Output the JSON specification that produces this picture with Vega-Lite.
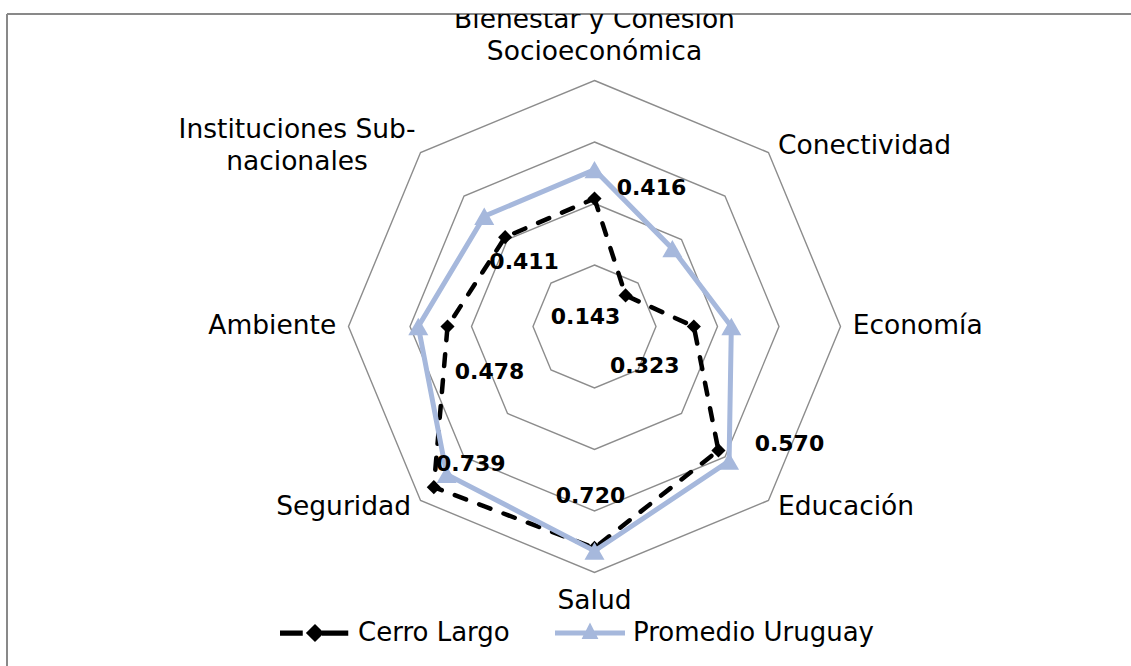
{
  "$schema": "https://vega.github.io/schema/vega-lite/v6.json",
  "width": 1124,
  "height": 652,
  "padding": {"left": 7, "top": 14, "right": 0, "bottom": 0},
  "autosize": {"type": "none"},
  "background": "white",
  "config": {
    "view": {"stroke": "#898989", "strokeWidth": 2, "strokeDash": [1124, 1776, 652, 0]},
    "font": "DejaVu Sans"
  },
  "datasets": {
    "scores": [
      {"cat": "Bienestar y Cohesión\nSocioeconómica", "k": 0, "serie": "Cerro Largo", "valor": 0.416},
      {"cat": "Conectividad", "k": 1, "serie": "Cerro Largo", "valor": 0.143},
      {"cat": "Economía", "k": 2, "serie": "Cerro Largo", "valor": 0.323},
      {"cat": "Educación", "k": 3, "serie": "Cerro Largo", "valor": 0.570},
      {"cat": "Salud", "k": 4, "serie": "Cerro Largo", "valor": 0.720},
      {"cat": "Seguridad", "k": 5, "serie": "Cerro Largo", "valor": 0.739},
      {"cat": "Ambiente", "k": 6, "serie": "Cerro Largo", "valor": 0.478},
      {"cat": "Instituciones Sub-\nnacionales", "k": 7, "serie": "Cerro Largo", "valor": 0.411},
      {"cat": "Bienestar y Cohesión\nSocioeconómica", "k": 0, "serie": "Promedio Uruguay", "valor": 0.510},
      {"cat": "Conectividad", "k": 1, "serie": "Promedio Uruguay", "valor": 0.358},
      {"cat": "Economía", "k": 2, "serie": "Promedio Uruguay", "valor": 0.445},
      {"cat": "Educación", "k": 3, "serie": "Promedio Uruguay", "valor": 0.619},
      {"cat": "Salud", "k": 4, "serie": "Promedio Uruguay", "valor": 0.730},
      {"cat": "Seguridad", "k": 5, "serie": "Promedio Uruguay", "valor": 0.680},
      {"cat": "Ambiente", "k": 6, "serie": "Promedio Uruguay", "valor": 0.573},
      {"cat": "Instituciones Sub-\nnacionales", "k": 7, "serie": "Promedio Uruguay", "valor": 0.507}
    ],
    "rings": [
      {"ring": 0.2, "k": 0}, {"ring": 0.2, "k": 1}, {"ring": 0.2, "k": 2}, {"ring": 0.2, "k": 3},
      {"ring": 0.2, "k": 4}, {"ring": 0.2, "k": 5}, {"ring": 0.2, "k": 6}, {"ring": 0.2, "k": 7},
      {"ring": 0.4, "k": 0}, {"ring": 0.4, "k": 1}, {"ring": 0.4, "k": 2}, {"ring": 0.4, "k": 3},
      {"ring": 0.4, "k": 4}, {"ring": 0.4, "k": 5}, {"ring": 0.4, "k": 6}, {"ring": 0.4, "k": 7},
      {"ring": 0.6, "k": 0}, {"ring": 0.6, "k": 1}, {"ring": 0.6, "k": 2}, {"ring": 0.6, "k": 3},
      {"ring": 0.6, "k": 4}, {"ring": 0.6, "k": 5}, {"ring": 0.6, "k": 6}, {"ring": 0.6, "k": 7},
      {"ring": 0.8, "k": 0}, {"ring": 0.8, "k": 1}, {"ring": 0.8, "k": 2}, {"ring": 0.8, "k": 3},
      {"ring": 0.8, "k": 4}, {"ring": 0.8, "k": 5}, {"ring": 0.8, "k": 6}, {"ring": 0.8, "k": 7}
    ]
  },
  "encoding": {
    "x": {"field": "px", "type": "quantitative", "scale": {"domain": [-1.91057, 1.74472], "nice": false, "zero": false}, "axis": null},
    "y": {"field": "py", "type": "quantitative", "scale": {"domain": [-1.10407, 1.01626], "nice": false, "zero": false}, "axis": null}
  },
  "layer": [
    {
      "data": {"name": "rings"},
      "transform": [
        {"calculate": "datum.ring * sin(datum.k * PI / 4)", "as": "px"},
        {"calculate": "datum.ring * cos(datum.k * PI / 4)", "as": "py"}
      ],
      "mark": {"type": "line", "interpolate": "linear-closed", "color": "#8C8C8C", "strokeWidth": 1.4},
      "encoding": {"detail": {"field": "ring", "type": "nominal"}, "order": {"field": "k", "type": "quantitative"}}
    },
    {
      "data": {"name": "scores"},
      "transform": [
        {"filter": "datum.serie == 'Cerro Largo'"},
        {"calculate": "datum.valor * sin(datum.k * PI / 4)", "as": "px"},
        {"calculate": "datum.valor * cos(datum.k * PI / 4)", "as": "py"}
      ],
      "mark": {"type": "line", "interpolate": "linear-closed", "color": "#000000", "strokeWidth": 4.5, "strokeDash": [12, 14], "strokeCap": "round"},
      "encoding": {"order": {"field": "k", "type": "quantitative"}}
    },
    {
      "data": {"name": "scores"},
      "transform": [
        {"filter": "datum.serie == 'Cerro Largo'"},
        {"calculate": "datum.valor * sin(datum.k * PI / 4)", "as": "px"},
        {"calculate": "datum.valor * cos(datum.k * PI / 4)", "as": "py"}
      ],
      "mark": {"type": "point", "shape": "diamond", "filled": true, "color": "#000000", "size": 200, "opacity": 1}
    },
    {
      "data": {"name": "scores"},
      "transform": [
        {"filter": "datum.serie == 'Promedio Uruguay'"},
        {"calculate": "datum.valor * sin(datum.k * PI / 4)", "as": "px"},
        {"calculate": "datum.valor * cos(datum.k * PI / 4)", "as": "py"}
      ],
      "mark": {"type": "line", "interpolate": "linear-closed", "color": "#A6B8DC", "strokeWidth": 5},
      "encoding": {"order": {"field": "k", "type": "quantitative"}}
    },
    {
      "data": {"name": "scores"},
      "transform": [
        {"filter": "datum.serie == 'Promedio Uruguay'"},
        {"calculate": "datum.valor * sin(datum.k * PI / 4)", "as": "px"},
        {"calculate": "datum.valor * cos(datum.k * PI / 4)", "as": "py"}
      ],
      "mark": {"type": "point", "shape": "triangle-up", "filled": true, "color": "#A6B8DC", "size": 400, "opacity": 1}
    },
    {
      "data": {"name": "scores"},
      "transform": [
        {"filter": "datum.serie == 'Cerro Largo' && (datum.k == 1 || datum.k == 2 || datum.k == 3)"},
        {"calculate": "0.83 * sin(datum.k * PI / 4)", "as": "px"},
        {"calculate": "0.83 * cos(datum.k * PI / 4)", "as": "py"}
      ],
      "mark": {"type": "text", "align": "left", "baseline": "middle", "dx": 3, "fontSize": 26.5, "color": "#000000", "lineBreak": "\n"},
      "encoding": {"text": {"field": "cat"}}
    },
    {
      "data": {"name": "scores"},
      "transform": [
        {"filter": "datum.serie == 'Cerro Largo' && (datum.k == 5 || datum.k == 6)"},
        {"calculate": "0.83 * sin(datum.k * PI / 4)", "as": "px"},
        {"calculate": "0.83 * cos(datum.k * PI / 4)", "as": "py"}
      ],
      "mark": {"type": "text", "align": "right", "baseline": "middle", "dx": -3, "fontSize": 26.5, "color": "#000000", "lineBreak": "\n"},
      "encoding": {"text": {"field": "cat"}}
    },
    {
      "data": {"name": "scores"},
      "transform": [
        {"filter": "datum.serie == 'Cerro Largo' && datum.k == 7"},
        {"calculate": "0.83 * sin(datum.k * PI / 4)", "as": "px"},
        {"calculate": "0.83 * cos(datum.k * PI / 4)", "as": "py"}
      ],
      "mark": {"type": "text", "align": "center", "baseline": "middle", "dx": -117, "dy": -16, "fontSize": 26.5, "lineHeight": 32, "color": "#000000", "lineBreak": "\n"},
      "encoding": {"text": {"field": "cat"}}
    },
    {
      "data": {"name": "scores"},
      "transform": [
        {"filter": "datum.serie == 'Cerro Largo' && datum.k == 0"},
        {"calculate": "0.83 * sin(datum.k * PI / 4)", "as": "px"},
        {"calculate": "0.83 * cos(datum.k * PI / 4)", "as": "py"}
      ],
      "mark": {"type": "text", "align": "center", "baseline": "middle", "dy": -51, "fontSize": 26.5, "lineHeight": 32, "color": "#000000", "lineBreak": "\n", "clip": true},
      "encoding": {"text": {"field": "cat"}}
    },
    {
      "data": {"name": "scores"},
      "transform": [
        {"filter": "datum.serie == 'Cerro Largo' && datum.k == 4"},
        {"calculate": "0.83 * sin(datum.k * PI / 4)", "as": "px"},
        {"calculate": "0.83 * cos(datum.k * PI / 4)", "as": "py"}
      ],
      "mark": {"type": "text", "align": "center", "baseline": "middle", "dy": 19, "fontSize": 26.5, "color": "#000000", "lineBreak": "\n"},
      "encoding": {"text": {"field": "cat"}}
    },
    {
      "data": {"name": "scores"},
      "transform": [
        {"filter": "datum.serie == 'Cerro Largo' && datum.k == 0"},
        {"calculate": "datum.valor * sin(datum.k * PI / 4)", "as": "px"},
        {"calculate": "datum.valor * cos(datum.k * PI / 4)", "as": "py"}
      ],
      "mark": {"type": "text", "align": "center", "baseline": "middle", "dx": 57, "dy": -11, "fontSize": 22, "fontWeight": "bold", "color": "#000000"},
      "encoding": {"text": {"field": "valor", "type": "quantitative", "format": ".3f"}}
    },
    {
      "data": {"name": "scores"},
      "transform": [
        {"filter": "datum.serie == 'Cerro Largo' && datum.k == 1"},
        {"calculate": "datum.valor * sin(datum.k * PI / 4)", "as": "px"},
        {"calculate": "datum.valor * cos(datum.k * PI / 4)", "as": "py"}
      ],
      "mark": {"type": "text", "align": "center", "baseline": "middle", "dx": -40, "dy": 22, "fontSize": 22, "fontWeight": "bold", "color": "#000000"},
      "encoding": {"text": {"field": "valor", "type": "quantitative", "format": ".3f"}}
    },
    {
      "data": {"name": "scores"},
      "transform": [
        {"filter": "datum.serie == 'Cerro Largo' && datum.k == 2"},
        {"calculate": "datum.valor * sin(datum.k * PI / 4)", "as": "px"},
        {"calculate": "datum.valor * cos(datum.k * PI / 4)", "as": "py"}
      ],
      "mark": {"type": "text", "align": "center", "baseline": "middle", "dx": -49, "dy": 40, "fontSize": 22, "fontWeight": "bold", "color": "#000000"},
      "encoding": {"text": {"field": "valor", "type": "quantitative", "format": ".3f"}}
    },
    {
      "data": {"name": "scores"},
      "transform": [
        {"filter": "datum.serie == 'Cerro Largo' && datum.k == 3"},
        {"calculate": "datum.valor * sin(datum.k * PI / 4)", "as": "px"},
        {"calculate": "datum.valor * cos(datum.k * PI / 4)", "as": "py"}
      ],
      "mark": {"type": "text", "align": "center", "baseline": "middle", "dx": 71, "dy": -6, "fontSize": 22, "fontWeight": "bold", "color": "#000000"},
      "encoding": {"text": {"field": "valor", "type": "quantitative", "format": ".3f"}}
    },
    {
      "data": {"name": "scores"},
      "transform": [
        {"filter": "datum.serie == 'Cerro Largo' && datum.k == 4"},
        {"calculate": "datum.valor * sin(datum.k * PI / 4)", "as": "px"},
        {"calculate": "datum.valor * cos(datum.k * PI / 4)", "as": "py"}
      ],
      "mark": {"type": "text", "align": "center", "baseline": "middle", "dx": -4, "dy": -52, "fontSize": 22, "fontWeight": "bold", "color": "#000000"},
      "encoding": {"text": {"field": "valor", "type": "quantitative", "format": ".3f"}}
    },
    {
      "data": {"name": "scores"},
      "transform": [
        {"filter": "datum.serie == 'Cerro Largo' && datum.k == 5"},
        {"calculate": "datum.valor * sin(datum.k * PI / 4)", "as": "px"},
        {"calculate": "datum.valor * cos(datum.k * PI / 4)", "as": "py"}
      ],
      "mark": {"type": "text", "align": "center", "baseline": "middle", "dx": 37, "dy": -23, "fontSize": 22, "fontWeight": "bold", "color": "#000000"},
      "encoding": {"text": {"field": "valor", "type": "quantitative", "format": ".3f"}}
    },
    {
      "data": {"name": "scores"},
      "transform": [
        {"filter": "datum.serie == 'Cerro Largo' && datum.k == 6"},
        {"calculate": "datum.valor * sin(datum.k * PI / 4)", "as": "px"},
        {"calculate": "datum.valor * cos(datum.k * PI / 4)", "as": "py"}
      ],
      "mark": {"type": "text", "align": "center", "baseline": "middle", "dx": 42, "dy": 46, "fontSize": 22, "fontWeight": "bold", "color": "#000000"},
      "encoding": {"text": {"field": "valor", "type": "quantitative", "format": ".3f"}}
    },
    {
      "data": {"name": "scores"},
      "transform": [
        {"filter": "datum.serie == 'Cerro Largo' && datum.k == 7"},
        {"calculate": "datum.valor * sin(datum.k * PI / 4)", "as": "px"},
        {"calculate": "datum.valor * cos(datum.k * PI / 4)", "as": "py"}
      ],
      "mark": {"type": "text", "align": "center", "baseline": "middle", "dx": 19, "dy": 25, "fontSize": 22, "fontWeight": "bold", "color": "#000000"},
      "encoding": {"text": {"field": "valor", "type": "quantitative", "format": ".3f"}}
    },
    {
      "data": {"name": "scores"},
      "transform": [
        {"filter": "datum.k == 0"},
        {"calculate": "datum.valor * sin(datum.k * PI / 4)", "as": "px"},
        {"calculate": "datum.valor * cos(datum.k * PI / 4)", "as": "py"}
      ],
      "mark": {"type": "point", "filled": true, "opacity": 0},
      "encoding": {
        "color": {
          "field": "serie",
          "type": "nominal",
          "scale": {"domain": ["Cerro Largo", "Promedio Uruguay"], "range": ["#000000", "#A6B8DC"]},
          "legend": {
            "title": null,
            "orient": "none",
            "legendX": 273,
            "legendY": 584,
            "direction": "horizontal",
            "padding": 0,
            "symbolSize": 4900,
            "symbolStrokeWidth": 0,
            "labelFont": "DejaVu Sans",
            "labelFontSize": 26,
            "labelColor": "#000000",
            "labelOffset": 8,
            "labelLimit": 0,
            "columnPadding": 45,
            "encode": {
              "symbols": {
                "update": {
                  "shape": {"signal": "datum.value === 'Cerro Largo' ? 'M-1,-0.075L-0.35,-0.075L-0.35,0.075L-1,0.075ZM0,-0.26L0.26,0L0,0.26L-0.26,0ZM0.2,-0.075L0.95,-0.075L0.95,0.075L0.2,0.075Z' : 'M-1,-0.07L1,-0.07L1,0.07L-1,0.07ZM0,-0.3L0.24,0.17L-0.24,0.17Z'"},
                  "fill": {"signal": "datum.value === 'Cerro Largo' ? '#000000' : '#A6B8DC'"},
                  "stroke": {"value": "transparent"},
                  "opacity": {"value": 1},
                  "fillOpacity": {"value": 1}
                }
              }
            }
          }
        }
      }
    }
  ]
}
